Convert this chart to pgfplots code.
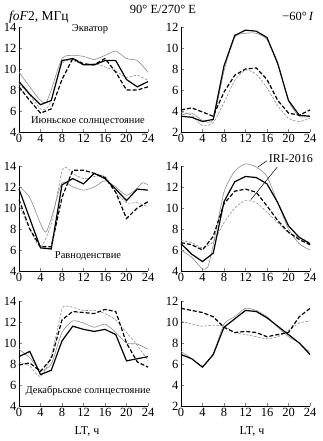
\documentclass[border=0pt]{standalone}
\usepackage{fontspec}
\setmainfont{Liberation Serif}
\usepackage{pgfplots}
\pgfplotsset{compat=1.18}
\pgfplotsset{
  panel/.style={scale only axis, width=129pt, height=105pt,
    axis lines*=left, tick align=inside, xmin=0, xmax=24,
    xtick={0,4,...,24}, ytick distance=2, clip=false,
    axis line style={line width=0.6pt}, major tick length=3pt,
    tick style={line width=0.5pt},
    /pgf/number format/assume math mode=true,
    ticklabel style={font=\fontsize{12.5}{13}\selectfont},
    xticklabel style={yshift=1pt}, yticklabel style={xshift=1pt}},
  bs/.style={black, line width=1.2pt},
  gs/.style={black!45, line width=0.6pt, smooth, tension=0.4},
  bd/.style={black, line width=1.2pt, dash pattern=on 4pt off 2pt},
  gd/.style={black!45, line width=0.6pt, dash pattern=on 2.5pt off 1.5pt, smooth, tension=0.4},
}
\begin{document}
\begin{tikzpicture}[x=1pt,y=1pt]
\useasboundingbox (0,0) rectangle (323,441);
% ---- top left
\begin{axis}[panel, at={(19pt,309pt)}, anchor=south west, ymin=4, ymax=14]
\addplot[gs] coordinates {(0,9.7)(2,8.3)(4,7.0)(5,6.8)(6,8.0)(8,11.0)(10,11.3)(12,11.2)(14,10.9)(16,11.3)(18,11.7)(20,11.0)(22,10.8)(24,9.7)};
\addplot[gd] coordinates {(0,8.6)(2,7.5)(4,6.2)(5,6.2)(6,7.0)(8,10.5)(10,10.8)(12,10.4)(14,10.5)(16,10.2)(18,9.8)(20,9.2)(22,9.4)(24,8.9)};
\addplot[bd] coordinates {(0,8.3)(2,7.0)(4,5.8)(6,6.2)(8,9.0)(10,11.0)(12,10.5)(14,10.4)(16,11.0)(18,9.7)(20,8.0)(22,8.0)(24,8.3)};
\addplot[bs] coordinates {(0,8.8)(2,7.6)(4,6.6)(6,7.0)(8,10.8)(10,11.0)(12,10.4)(14,10.4)(16,10.8)(18,10.8)(20,9.0)(22,8.3)(24,8.8)};
\end{axis}
% ---- top right
\begin{axis}[panel, at={(181pt,309pt)}, anchor=south west, ymin=2, ymax=12]
\addplot[gs] coordinates {(0,3.6)(2,3.8)(4,3.1)(6,3.2)(8,7.8)(10,11.0)(12,11.4)(14,11.4)(16,10.8)(18,8.6)(20,5.0)(22,3.5)(24,3.5)};
\addplot[gd] coordinates {(0,3.9)(2,3.6)(4,2.6)(6,2.9)(8,4.8)(10,6.9)(12,7.9)(14,7.5)(16,6.2)(18,4.5)(20,3.3)(22,3.0)(24,3.3)};
\addplot[bd] coordinates {(0,4.1)(2,4.3)(4,3.9)(6,3.5)(8,5.8)(10,7.4)(12,8.0)(14,8.1)(16,7.0)(18,5.0)(20,3.8)(22,3.6)(24,4.1)};
\addplot[bs] coordinates {(0,3.5)(2,3.4)(4,3.0)(6,3.2)(8,8.3)(10,11.2)(12,11.7)(14,11.6)(16,11.0)(18,8.5)(20,5.0)(22,3.6)(24,3.5)};
\end{axis}
% ---- middle left
\begin{axis}[panel, at={(19pt,170pt)}, anchor=south west, ymin=4, ymax=14]
\addplot[gs] coordinates {(0,12.1)(2,11.0)(4,8.5)(5,7.7)(6,9.0)(8,12.4)(10,12.0)(12,11.7)(14,12.0)(16,12.6)(18,12.0)(20,11.2)(22,11.9)(23,12.4)(24,12.2)};
\addplot[gd] coordinates {(0,10.3)(2,8.0)(4,6.3)(6,8.5)(8,13.5)(9,13.8)(10,13.3)(12,12.8)(14,13.0)(16,13.0)(18,11.5)(20,10.5)(22,10.5)(24,10.1)};
\addplot[bd] coordinates {(0,10.8)(2,8.0)(4,6.3)(6,6.3)(8,11.0)(10,13.6)(12,13.6)(14,13.3)(16,12.9)(18,11.5)(20,9.0)(22,10.0)(24,10.6)};
\addplot[bs] coordinates {(0,11.8)(2,9.0)(4,6.2)(6,6.1)(8,12.2)(10,12.8)(12,12.3)(14,13.3)(16,12.8)(18,11.8)(20,10.7)(22,11.8)(24,11.7)};
\end{axis}
% ---- middle right
\begin{axis}[panel, at={(181pt,170pt)}, anchor=south west, ymin=4, ymax=14]
\addplot[gs] coordinates {(0,6.0)(2,5.3)(4,4.2)(5,4.4)(6,6.5)(8,11.5)(10,13.5)(12,14.2)(14,13.9)(16,13.0)(18,10.5)(20,8.0)(22,6.6)(24,6.0)};
\addplot[gd] coordinates {(0,6.9)(2,6.7)(4,6.2)(6,6.8)(8,8.6)(10,10.0)(12,10.7)(14,10.5)(16,9.6)(18,8.6)(20,7.6)(22,7.2)(24,6.7)};
\addplot[bd] coordinates {(0,6.7)(2,6.5)(4,6.0)(6,7.3)(8,10.4)(10,11.6)(12,11.8)(14,11.5)(16,10.2)(18,8.8)(20,7.7)(22,7.0)(24,6.5)};
\addplot[bs] coordinates {(0,6.6)(2,5.6)(4,4.9)(6,5.7)(8,10.6)(10,12.5)(12,13.0)(14,12.9)(16,12.3)(18,10.5)(20,8.3)(22,7.2)(24,6.6)};
\draw[line width=0.5pt] (axis cs:16.0,14.5) -- (axis cs:14.3,13.9);
\draw[line width=0.5pt] (axis cs:17.9,13.9) -- (axis cs:13.0,10.8);
\node[anchor=west, inner sep=0pt, font=\fontsize{12}{13}\selectfont] at (axis cs:16.3,14.7) {IRI-2016};
\end{axis}
% ---- bottom left
\begin{axis}[panel, at={(19pt,35pt)}, anchor=south west, ymin=4, ymax=14]
\addplot[gs] coordinates {(0,9.4)(2,8.6)(4,7.4)(6,8.0)(8,11.0)(10,12.1)(12,11.9)(14,11.5)(16,11.8)(18,11.0)(20,10.0)(22,9.9)(24,9.4)};
\addplot[gd] coordinates {(0,8.2)(2,7.8)(4,6.8)(6,8.8)(8,13.2)(9,13.5)(10,13.4)(12,13.1)(14,13.1)(16,12.8)(18,12.2)(20,11.0)(22,9.8)(24,8.3)};
\addplot[bd] coordinates {(0,7.9)(2,8.1)(4,7.3)(6,8.5)(8,12.2)(10,13.0)(12,12.9)(14,12.8)(16,13.2)(18,13.0)(20,10.0)(22,8.2)(24,7.7)};
\addplot[bs] coordinates {(0,8.7)(2,9.2)(4,7.0)(6,7.4)(8,10.2)(10,11.6)(12,11.3)(14,11.1)(16,11.3)(18,10.8)(20,8.3)(22,8.5)(24,8.7)};
\end{axis}
% ---- bottom right
\begin{axis}[panel, at={(181pt,35pt)}, anchor=south west, ymin=2, ymax=12]
\addplot[gs] coordinates {(0,7.2)(2,6.5)(4,5.8)(6,7.0)(8,9.8)(10,10.5)(12,11.3)(14,11.1)(16,10.5)(18,9.5)(20,8.6)(22,8.0)(24,7.1)};
\addplot[gd] coordinates {(0,10.1)(2,9.8)(4,9.6)(6,9.7)(8,9.6)(10,9.0)(12,8.8)(14,8.6)(16,8.4)(18,8.6)(20,9.2)(22,9.9)(24,10.1)};
\addplot[bd] coordinates {(0,11.3)(2,11.1)(4,10.9)(6,10.5)(8,9.5)(10,9.0)(12,9.1)(14,9.0)(16,8.6)(18,8.8)(20,9.0)(22,10.5)(24,11.3)};
\addplot[bs] coordinates {(0,6.9)(2,6.5)(4,5.7)(6,6.9)(8,9.5)(10,10.3)(12,11.1)(14,11.0)(16,10.4)(18,9.6)(20,8.8)(22,8.0)(24,6.9)};
\end{axis}
% ---- texts
\node[font=\fontsize{10.5}{12}\selectfont] at (90,412) {Экватор};
\node[font=\fontsize{10.5}{12}\selectfont] at (88,320) {Июньское солнцестояние};
\node[font=\fontsize{10.5}{12}\selectfont] at (88,185) {Равноденствие};
\node[font=\fontsize{10.5}{12}\selectfont] at (88,50) {Декабрьское солнцестояние};
\node[font=\fontsize{12.5}{13}\selectfont] at (163,432) {90° E/270° E};
\node[anchor=west, inner sep=0pt, font=\fontsize{13.5}{14}\selectfont] at (9,424) {\textit{foF}2, МГц};
\node[font=\fontsize{12.5}{13}\selectfont] at (298,425) {−60°\,\textit{I}};
\node[font=\fontsize{12}{13}\selectfont] at (87,10) {LT, ч};
\node[font=\fontsize{12}{13}\selectfont] at (252,10) {LT, ч};
\end{tikzpicture}
\end{document}
